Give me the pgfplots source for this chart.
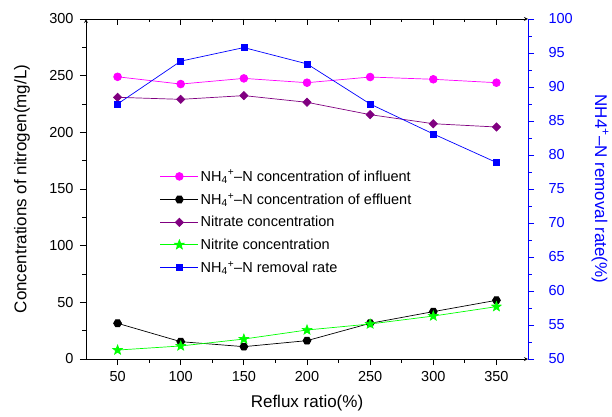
\documentclass[border=0pt]{standalone}
\usepackage{fontspec}
\setmainfont{Liberation Sans}
\usepackage{pgfplots}
\pgfplotsset{compat=1.18}
\definecolor{mag}{RGB}{255,0,255}
\definecolor{purp}{RGB}{128,0,128}
\definecolor{grn}{RGB}{0,255,0}
\definecolor{blu}{RGB}{0,0,255}
\pgfdeclareplotmark{fstar}{%
  \pgfpathmoveto{\pgfqpointpolar{90}{\pgfplotmarksize}}%
  \pgfpathlineto{\pgfqpointpolar{126}{0.42\pgfplotmarksize}}%
  \pgfpathlineto{\pgfqpointpolar{162}{\pgfplotmarksize}}%
  \pgfpathlineto{\pgfqpointpolar{198}{0.42\pgfplotmarksize}}%
  \pgfpathlineto{\pgfqpointpolar{234}{\pgfplotmarksize}}%
  \pgfpathlineto{\pgfqpointpolar{270}{0.42\pgfplotmarksize}}%
  \pgfpathlineto{\pgfqpointpolar{306}{\pgfplotmarksize}}%
  \pgfpathlineto{\pgfqpointpolar{342}{0.42\pgfplotmarksize}}%
  \pgfpathlineto{\pgfqpointpolar{18}{\pgfplotmarksize}}%
  \pgfpathlineto{\pgfqpointpolar{54}{0.42\pgfplotmarksize}}%
  \pgfpathclose\pgfusepathqfillstroke}
\pgfdeclareplotmark{hexa}{%
  \pgfpathmoveto{\pgfqpointpolar{0}{\pgfplotmarksize}}%
  \pgfpathlineto{\pgfqpointpolar{60}{\pgfplotmarksize}}%
  \pgfpathlineto{\pgfqpointpolar{120}{\pgfplotmarksize}}%
  \pgfpathlineto{\pgfqpointpolar{180}{\pgfplotmarksize}}%
  \pgfpathlineto{\pgfqpointpolar{240}{\pgfplotmarksize}}%
  \pgfpathlineto{\pgfqpointpolar{300}{\pgfplotmarksize}}%
  \pgfpathclose\pgfusepathqfillstroke}
\newcommand{\nh}{NH\textsubscript{4}\textsuperscript{+}–N}
\begin{document}
\begin{tikzpicture}
\path[use as bounding box] (-86pt,-57pt) rectangle (526pt,359pt);
\pgfplotsset{
  base/.style={width=442pt, height=340pt, scale only axis, at={(0,0)}, anchor=south west,
    xmin=25, xmax=375, xtick={50,100,...,350}, minor x tick num=1,
    major tick length=6pt, minor tick length=3.5pt,
    /pgf/number format/assume math mode=true,
    tick label style={font=\fontsize{14.5}{17}\selectfont},
    label style={font=\fontsize{17}{20}\selectfont},
    axis line style={line width=0.8pt,-},
    every tick/.style={line width=0.8pt},
  }
}
% top axis (inner ticks)
\begin{axis}[base, axis x line=top, axis y line=none, xticklabels={}, tick align=inside,
  ymin=0, ymax=300, every tick/.style={black,line width=0.8pt}]
\end{axis}
% left / bottom
\begin{axis}[base, axis x line=bottom, axis y line=left, tick align=outside,
  ymin=0, ymax=300, ytick={0,50,...,300}, minor y tick num=1,
  xticklabel shift=3pt, yticklabel shift=3pt,
  every tick/.style={black,line width=0.8pt},
  xlabel={Reflux ratio(\%)}, ylabel={Concentrations of nitrogen(mg/L)},
  xlabel style={at={(axis description cs:0.5,-0.13)}, anchor=center},
  ylabel style={at={(axis description cs:-0.145,0.5)}, anchor=center},
  legend style={at={(axis description cs:0.167,0.562)}, anchor=north west, draw=none, fill=none,
    font=\fontsize{14.5}{17}\selectfont, row sep=6.5pt, inner sep=0pt},
  legend cell align=left,
  legend image code/.code={\draw[mark repeat=2,mark phase=2] plot coordinates {(0pt,0pt)(19pt,0pt)(38pt,0pt)};},
  ]
\addplot[mag, line width=0.7pt, mark=*, mark size=3.9pt, mark options={solid,fill=mag,draw=mag}]
  coordinates {(50,249.0)(100,242.6)(150,247.6)(200,243.8)(250,248.8)(300,246.8)(350,243.8)};
\addlegendentry{\nh{} concentration of influent}
\addplot[black, line width=0.7pt, mark=hexa, mark size=4pt, mark options={solid,fill=black}]
  coordinates {(50,31.5)(100,15.3)(150,10.9)(200,16.2)(250,31.5)(300,41.8)(350,51.8)};
\addlegendentry{\nh{} concentration of effluent}
\addplot[purp, line width=0.7pt, mark=square*, mark size=2.9pt, mark options={solid,fill=purp,rotate=45}]
  coordinates {(50,230.9)(100,229.1)(150,232.4)(200,226.5)(250,215.6)(300,207.6)(350,204.7)};
\addlegendentry{Nitrate concentration}
\addplot[grn, line width=0.7pt, mark=fstar, mark size=5pt, mark options={solid,fill=grn}]
  coordinates {(50,7.9)(100,11.5)(150,17.6)(200,25.6)(250,30.9)(300,37.9)(350,46.2)};
\addlegendentry{Nitrite concentration}
\addlegendimage{blu, line width=0.7pt, mark=square*, mark size=3pt, mark options={solid,fill=blu}}
\addlegendentry{\nh{} removal rate}
\end{axis}
% right axis
\begin{axis}[base, axis x line=none, axis y line=right, tick align=outside,
  ymin=50, ymax=100, ytick={50,55,...,100}, minor y tick num=1,
  yticklabel shift=11pt,
  y axis line style={blu, line width=0.8pt,-},
  every tick/.style={blu, line width=0.8pt},
  yticklabel style={blu},
  ylabel={NH4\textsuperscript{+}–N removal rate(\%)},
  ylabel style={blu, font=\fontsize{17}{20}\selectfont, rotate=180, at={(axis description cs:1.163,0.5)}, anchor=center},
  ]
\addplot[blu, line width=0.7pt, mark=square*, mark size=3pt, mark options={solid,fill=blu}]
  coordinates {(50,87.5)(100,93.8)(150,95.8)(200,93.4)(250,87.5)(300,83.1)(350,78.9)};
\end{axis}
\end{tikzpicture}
\end{document}
